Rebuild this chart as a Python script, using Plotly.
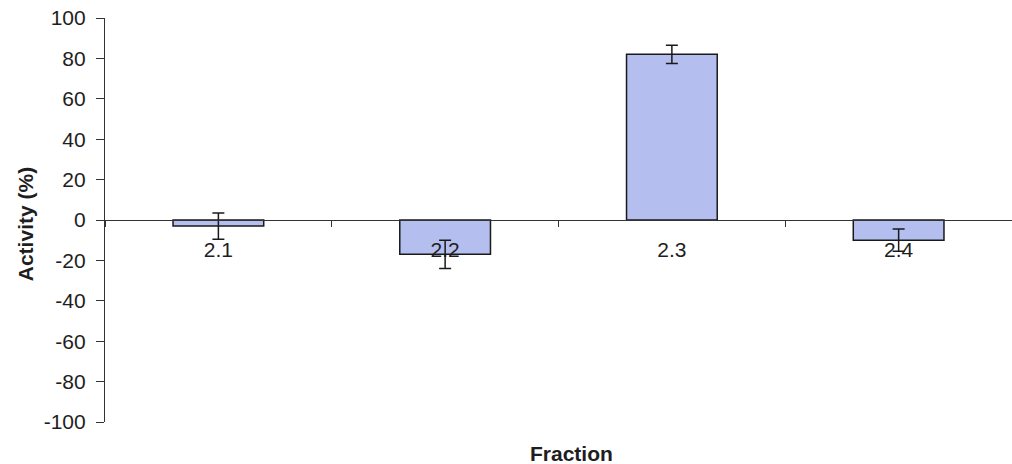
import plotly.graph_objects as go

# Fraction activity data
fractions = ["2.1", "2.2", "2.3", "2.4"]
activity = [-3, -17, 82, -10]
activity_err = [6.5, 7, 4.5, 5.5]
y_ticks = [100, 80, 60, 40, 20, 0, -20, -40, -60, -80, -100]
y_tick_text = [str(v) for v in y_ticks]  # plain hyphen for negatives

fig = go.Figure()
fig.add_trace(go.Bar(
    x=fractions,
    y=activity,
    width=0.4,
    marker=dict(color="#b4bff0", line=dict(color="#1a1a1a", width=1.5)),
    error_y=dict(type="data", array=activity_err, visible=True,
                 color="#1a1a1a", thickness=1.5, width=6),
))

fig.update_layout(
    width=1012, height=464,
    margin=dict(l=105, r=0, t=18, b=42),
    plot_bgcolor="white", paper_bgcolor="white",
    showlegend=False,
    font=dict(family="Liberation Sans, Arial, sans-serif", color="#1e1e1e"),
    xaxis=dict(
        anchor="free", position=0.5,
        showline=True, linecolor="#333", linewidth=1.2,
        ticks="outside", tickson="boundaries", ticklen=6, tickcolor="#333",
        ticklabelstandoff=11,
        tickfont=dict(size=21), showgrid=False, zeroline=False,
    ),
    yaxis=dict(
        range=[-100, 100], tickvals=y_ticks, ticktext=y_tick_text,
        showline=True, linecolor="#333", linewidth=1.2,
        ticks="outside", ticklen=8, tickcolor="#333",
        ticklabelstandoff=6,
        tickfont=dict(size=21), showgrid=False, zeroline=False,
    ),
    annotations=[
        dict(text="<b>Activity (%)</b>", textangle=-90, xref="paper", yref="paper",
             x=-0.088, y=0.49, xanchor="center", yanchor="middle",
             showarrow=False, font=dict(size=21)),
        dict(text="<b>Fraction</b>", xref="paper", yref="paper",
             x=0.514, y=-0.077, xanchor="center", yanchor="middle",
             showarrow=False, font=dict(size=21)),
    ],
)

fig.write_html("out.html")
